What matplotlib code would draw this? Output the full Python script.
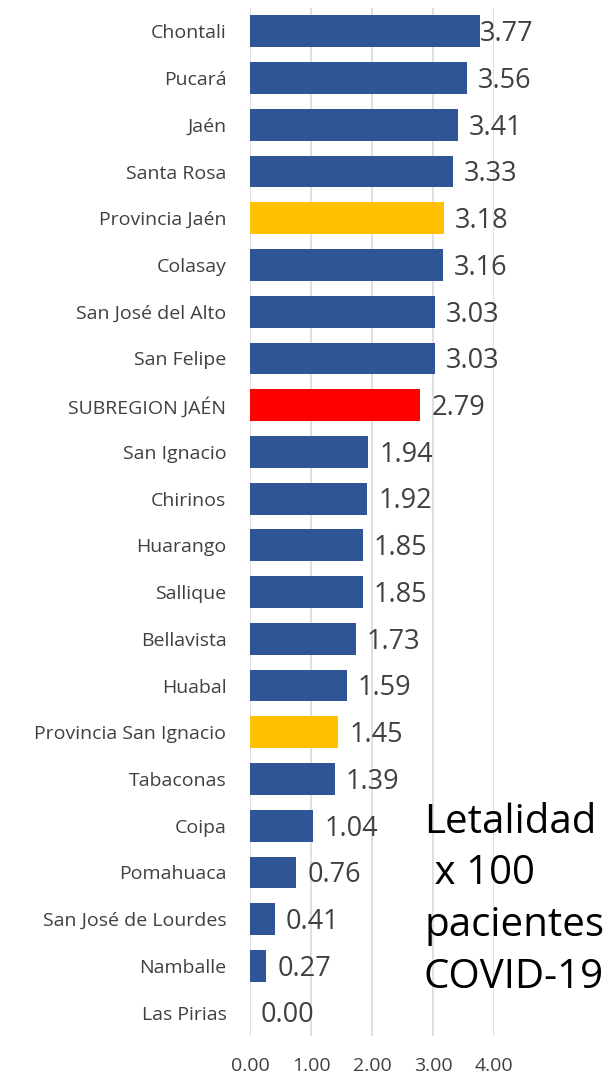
import matplotlib.pyplot as plt

districts = ["Chontali", "Pucará", "Jaén", "Santa Rosa", "Provincia Jaén", "Colasay",
             "San José del Alto", "San Felipe", "SUBREGION JAÉN", "San Ignacio", "Chirinos",
             "Huarango", "Sallique", "Bellavista", "Huabal", "Provincia San Ignacio",
             "Tabaconas", "Coipa", "Pomahuaca", "San José de Lourdes", "Namballe", "Las Pirias"]
letalidad = [3.77, 3.56, 3.41, 3.33, 3.18, 3.16, 3.03, 3.03, 2.79, 1.94, 1.92,
             1.85, 1.85, 1.73, 1.59, 1.45, 1.39, 1.04, 0.76, 0.41, 0.27, 0.00]
ticks = [0, 1, 2, 3, 4]

BLUE = "#2F5597"
GOLD = "#FFC000"
RED = "#FF0000"


def bar_color(name):
    if name.startswith("Provincia"):
        return GOLD
    if name.startswith("SUBREGION"):
        return RED
    return BLUE


def main():
    fig = plt.figure(figsize=(6.15, 10.78), dpi=100)
    ax = fig.add_axes([250 / 615, 1 - 1036 / 1078, 244 / 615, 1028 / 1078])
    ypos = list(range(len(districts)))
    ax.barh(ypos, letalidad, height=0.68, color=[bar_color(d) for d in districts], zorder=2)
    ax.set_ylim(len(districts) - 0.5, -0.5)
    ax.set_xlim(0, 4)

    # data labels
    for y, v in zip(ypos, letalidad):
        off = 0.0 if v > 3.7 else 0.18
        ax.text(v + off, y + 0.06, f"{v:.2f}", va="center", ha="left",
                fontsize=19.5, color="#404040", family="Open Sans", zorder=3)

    ax.set_yticks(ypos)
    ax.set_yticklabels(districts, fontsize=14, color="#404040", family="Open Sans")
    ax.set_xticks(ticks)
    ax.set_xticklabels([f"{t:.2f}" for t in ticks], fontsize=14, color="#404040",
                       family="Open Sans")
    ax.tick_params(axis="both", length=0)
    ax.tick_params(axis="x", pad=15)
    ax.tick_params(axis="y", pad=17)
    ax.grid(axis="x", color="#D9D9D9", linewidth=1.2, zorder=0)
    for s in ax.spines.values():
        s.set_visible(False)

    fig.text(424 / 615, 1 - 900 / 1078, "Letalidad\n x 100\npacientes\nCOVID-19",
             fontsize=29, color="black", family="Open Sans", va="center", ha="left",
             linespacing=1.37)

    fig.savefig("out.png", dpi=100)


main()
